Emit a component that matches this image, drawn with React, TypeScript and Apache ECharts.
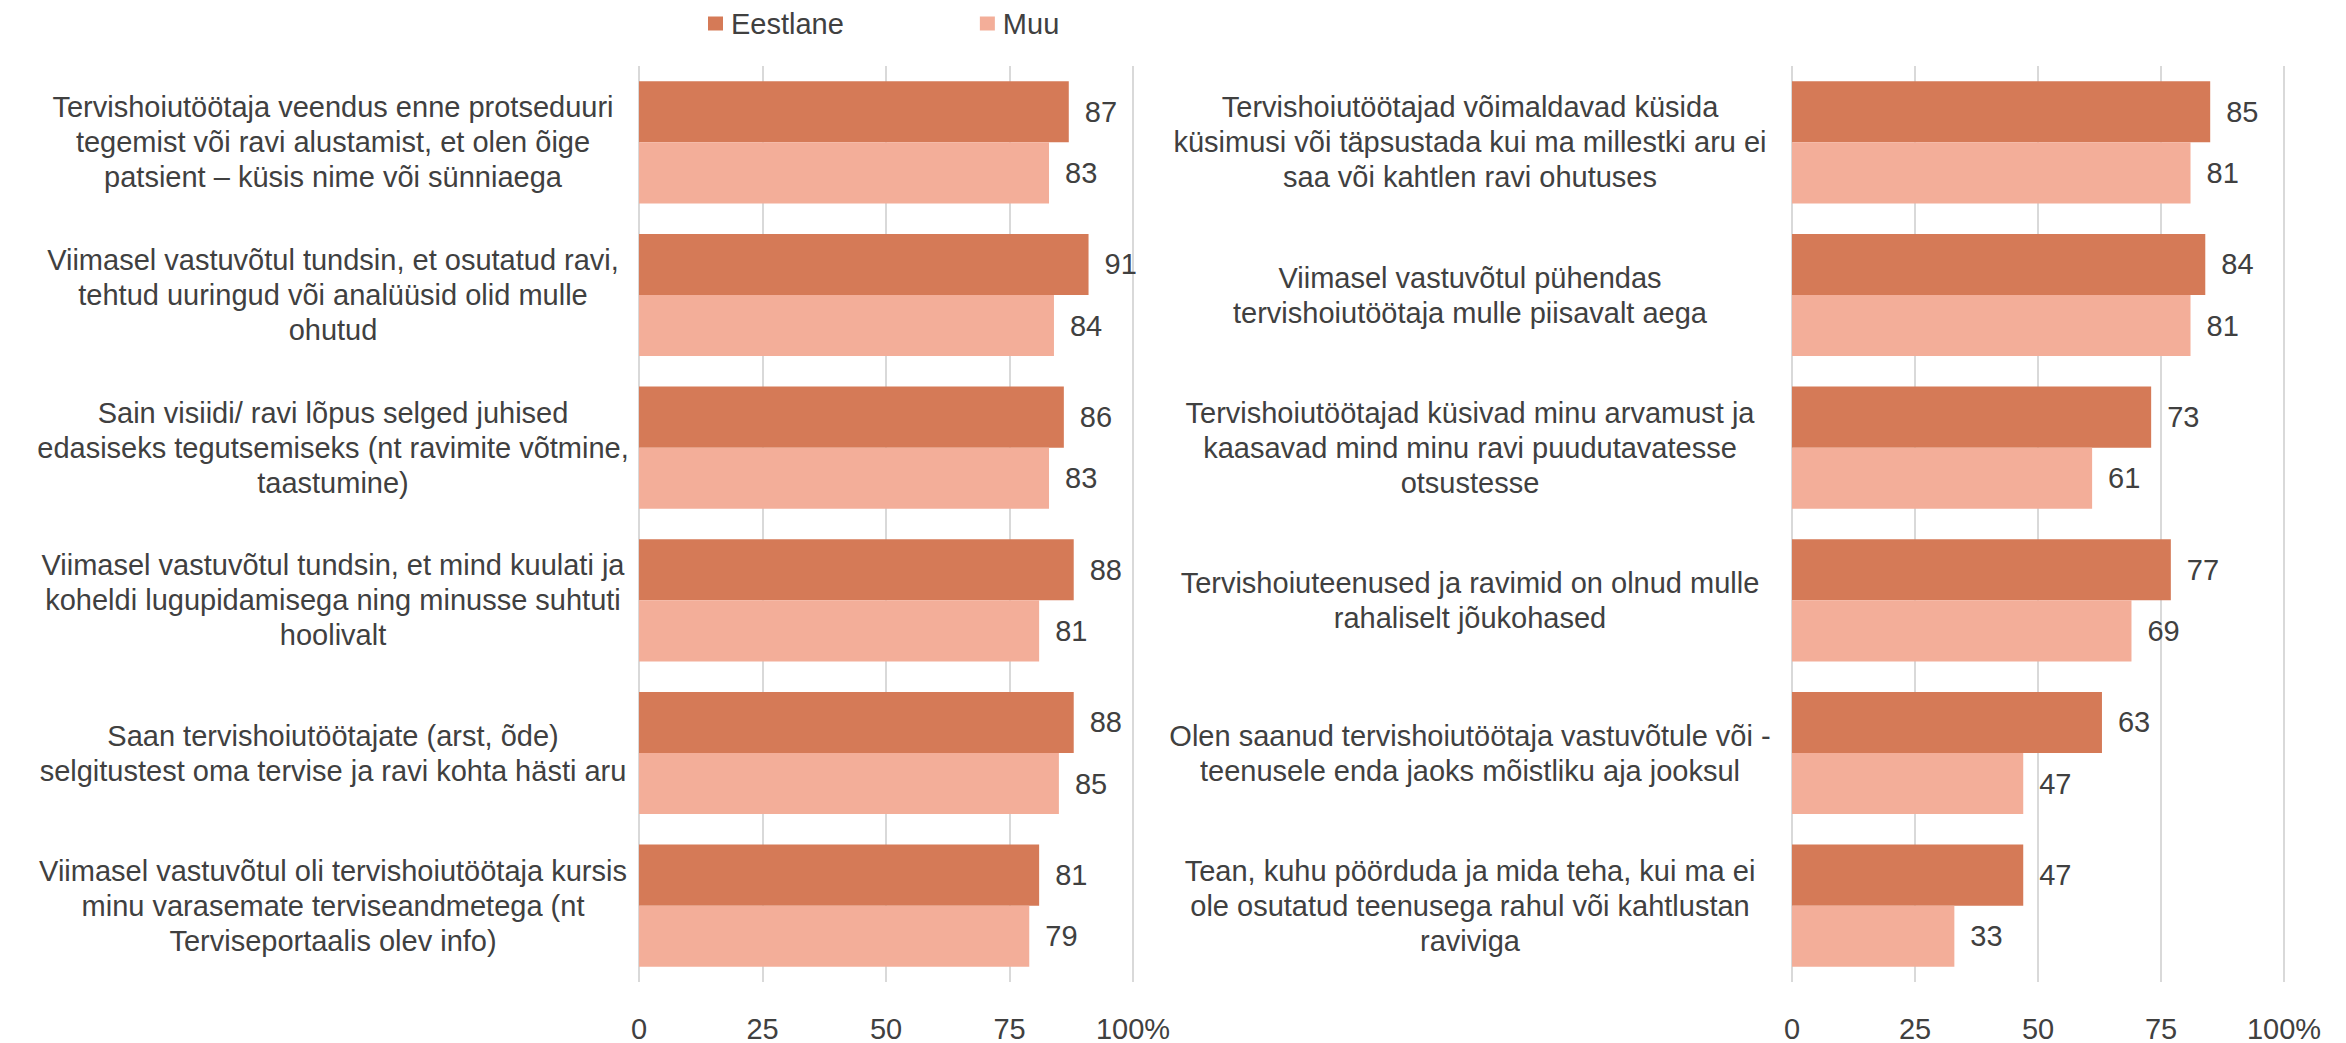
import React, { useEffect, useRef } from "react";
import * as echarts from "echarts";

const seriesNames = ["Eestlane", "Muu"];

const leftCategories = [
  "Tervishoiutöötaja veendus enne protseduuri\ntegemist või ravi alustamist, et olen õige\npatsient – küsis nime või sünniaega",
  "Viimasel vastuvõtul tundsin, et osutatud ravi,\ntehtud uuringud või analüüsid olid mulle\nohutud",
  "Sain visiidi/ ravi lõpus selged juhised\nedasiseks tegutsemiseks (nt ravimite võtmine,\ntaastumine)",
  "Viimasel vastuvõtul tundsin, et mind kuulati ja\nkoheldi lugupidamisega ning minusse suhtuti\nhoolivalt",
  "Saan tervishoiutöötajate (arst, õde)\nselgitustest oma tervise ja ravi kohta hästi aru",
  "Viimasel vastuvõtul oli tervishoiutöötaja kursis\nminu varasemate terviseandmetega (nt\nTerviseportaalis olev info)",
];
const leftEestlane = [87, 91, 86, 88, 88, 81];
const leftMuu = [83, 84, 83, 81, 85, 79];

const rightCategories = [
  "Tervishoiutöötajad võimaldavad küsida\nküsimusi või täpsustada kui ma millestki aru ei\nsaa või kahtlen ravi ohutuses",
  "Viimasel vastuvõtul pühendas\ntervishoiutöötaja mulle piisavalt aega",
  "Tervishoiutöötajad küsivad minu arvamust ja\nkaasavad mind minu ravi puudutavatesse\notsustesse",
  "Tervishoiuteenused ja ravimid on olnud mulle\nrahaliselt jõukohased",
  "Olen saanud tervishoiutöötaja vastuvõtule või -\nteenusele enda jaoks mõistliku aja jooksul",
  "Tean, kuhu pöörduda ja mida teha, kui ma ei\nole osutatud teenusega rahul või kahtlustan\nraviviga",
];
const rightEestlane = [85, 84, 73, 77, 63, 47];
const rightMuu = [81, 81, 61, 69, 47, 33];

const FONT = "Liberation Sans, Arial, sans-serif";
const TEXT = "#404040";
const C1 = "#D57A57";
const C2 = "#F3AE99";
const FS = 29;

export default function App() {
  const ref = useRef<HTMLDivElement>(null);
  useEffect(() => {
    if (!ref.current) return;
    const chart = echarts.init(ref.current, undefined, { renderer: "svg" });
    const xAxisCommon = {
      type: "value",
      min: 0,
      max: 100,
      interval: 25,
      axisLine: { show: false },
      axisTick: { show: false },
      splitLine: { show: true, lineStyle: { color: "#D9D9D9", width: 2 } },
      axisLabel: {
        color: TEXT,
        fontSize: FS,
        fontFamily: FONT,
        margin: 32,
        formatter: (v: number) => (v === 100 ? "100%" : String(v)),
      },
    };
    const yAxisCommon = {
      type: "category",
      inverse: true,
      axisLine: { show: false },
      axisTick: { show: false },
      splitLine: { show: false },
    };
    const labelCommon = {
      show: true,
      position: "right",
      distance: 16,
      color: TEXT,
      fontSize: FS,
      fontFamily: FONT,
    };
    const barCommon = {
      type: "bar",
      barGap: "0%",
      barCategoryGap: "20%",
      label: labelCommon,
    };
    chart.setOption({
      animation: false,
      backgroundColor: "#ffffff",
      legend: {
        data: seriesNames,
        left: 703,
        top: 4,
        itemWidth: 15,
        itemHeight: 14,
        itemGap: 136,
        icon: "rect",
        textStyle: { color: TEXT, fontSize: FS, fontFamily: FONT, padding: [0, 0, 0, 3] },
      },
      grid: [
        { left: 639, width: 494, top: 66, height: 917, containLabel: false },
        { left: 1792, width: 492, top: 66, height: 917, containLabel: false },
      ],
      xAxis: [
        { ...xAxisCommon, gridIndex: 0 },
        { ...xAxisCommon, gridIndex: 1 },
      ],
      yAxis: [
        {
          ...yAxisCommon,
          gridIndex: 0,
          data: leftCategories,
          axisLabel: {
            color: TEXT,
            fontSize: FS,
            fontFamily: FONT,
            align: "center",
            margin: 306,
            lineHeight: 35,
          },
        },
        {
          ...yAxisCommon,
          gridIndex: 1,
          data: rightCategories,
          axisLabel: {
            color: TEXT,
            fontSize: FS,
            fontFamily: FONT,
            align: "center",
            margin: 322,
            lineHeight: 35,
          },
        },
      ],
      series: [
        { ...barCommon, name: seriesNames[0], xAxisIndex: 0, yAxisIndex: 0, data: leftEestlane, itemStyle: { color: C1 } },
        { ...barCommon, name: seriesNames[1], xAxisIndex: 0, yAxisIndex: 0, data: leftMuu, itemStyle: { color: C2 } },
        { ...barCommon, name: seriesNames[0], xAxisIndex: 1, yAxisIndex: 1, data: rightEestlane, itemStyle: { color: C1 } },
        { ...barCommon, name: seriesNames[1], xAxisIndex: 1, yAxisIndex: 1, data: rightMuu, itemStyle: { color: C2 } },
      ],
    });
    return () => chart.dispose();
  }, []);
  return (
    <div
      ref={ref}
      style={{ position: "fixed", left: 0, top: 0, width: 2346, height: 1043, background: "#fff" }}
    />
  );
}
